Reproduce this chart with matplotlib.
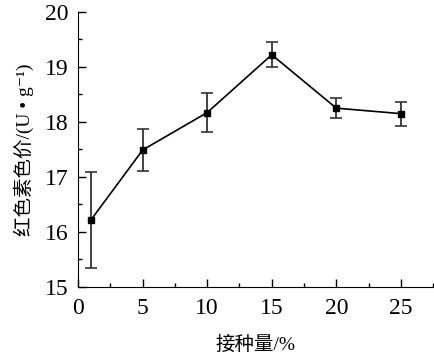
import matplotlib.pyplot as plt
import numpy as np

plt.rcParams['font.family'] = ['Liberation Serif', 'Noto Sans CJK SC', 'DejaVu Serif']

dose = [1, 5, 10, 15, 20, 25]
value = [16.22, 17.49, 18.17, 19.22, 18.25, 18.15]
err = [0.87, 0.39, 0.36, 0.23, 0.18, 0.22]

fig = plt.figure(figsize=(4.34, 3.59), dpi=100)
ax = fig.add_axes([0.18, 0.2006, 0.818, 0.7664])

ax.errorbar(dose, value, yerr=err, color='black', ecolor='#333333', elinewidth=1.3,
            capsize=4, capthick=1.2, marker='s', markersize=5, linewidth=1.2)

ax.set_xlim(0, 27.5)
ax.set_ylim(15, 20)
ax.set_xticks(np.arange(0, 26, 5))
ax.set_xticks(np.arange(0, 27.6, 2.5), minor=True)
ax.set_yticks(np.arange(15, 20.1, 1))
ax.set_yticks(np.arange(15, 20.1, 0.5), minor=True)
ax.tick_params(which='both', direction='in', labelsize=17, width=1)
ax.tick_params(which='major', length=6)
ax.tick_params(which='minor', length=3)
ax.tick_params(axis='y', pad=7)
ax.tick_params(axis='x', pad=8)
ax.spines['top'].set_visible(False)
ax.spines['right'].set_visible(False)

ax.set_xlabel('接种量/%', fontsize=14, labelpad=12)
ax.set_ylabel('红色素色价/(U • g⁻¹)', fontsize=14, labelpad=8)

fig.savefig('out.png', dpi=100)
